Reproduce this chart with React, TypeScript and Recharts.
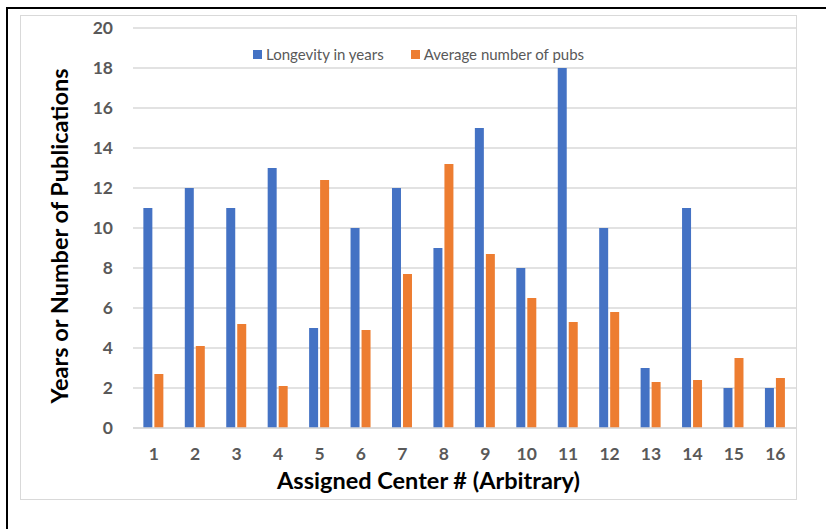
import React from 'react';
import { BarChart, Bar, XAxis, YAxis, CartesianGrid, Label } from 'recharts';

const centers = ['1','2','3','4','5','6','7','8','9','10','11','12','13','14','15','16'];
const longevity = [11, 12, 11, 13, 5, 10, 12, 9, 15, 8, 18, 10, 3, 11, 2, 2];
const avgPubs = [2.7, 4.1, 5.2, 2.1, 12.4, 4.9, 7.7, 13.2, 8.7, 6.5, 5.3, 5.8, 2.3, 2.4, 3.5, 2.5];
const yTicks = [0, 2, 4, 6, 8, 10, 12, 14, 16, 18, 20];
const seriesNames = ['Longevity in years', 'Average number of pubs'];
const xTitle = 'Assigned Center # (Arbitrary)';
const yTitle = 'Years or Number of Publications';

const data = centers.map((c, i) => ({ center: c, longevity: longevity[i], pubs: avgPubs[i] }));

const FONT = 'Lato, "Open Sans", sans-serif';
const BLUE = '#4472C4';
const ORANGE = '#ED7D31';
const seriesColors = [BLUE, ORANGE];
const titleStyle = { fill: '#000', fontSize: 23.5, fontWeight: 'bold' as const, fontFamily: FONT };

const XTitle = (props: any) => {
  const vb = props.viewBox || {};
  const x = vb.x + vb.width / 2 - 36;
  const y = vb.y + vb.height - 11;
  return <text x={x} y={y} textAnchor="middle" style={titleStyle}>{xTitle}</text>;
};

const YTitle = (props: any) => {
  const vb = props.viewBox || {};
  const x = vb.x + 48;
  const y = vb.y + vb.height / 2 + 8;
  return <text x={x} y={y} textAnchor="middle" transform={`rotate(-90 ${x} ${y})`} style={titleStyle}>{yTitle}</text>;
};

export default function App() {
  return (
    <div style={{ position: 'relative', width: 810, height: 513 }}>
      <style>{`html,body{overflow:hidden}`}</style>
      <div style={{ position: 'fixed', left: 6, top: 7, width: 2, height: 530, background: '#000' }} />
      <div style={{ position: 'fixed', left: 6, top: 7, width: 830, height: 2, background: '#000' }} />
      <div style={{ position: 'absolute', left: 12, top: 7, width: 777, height: 485, border: '1.5px solid #d9d9d9', boxSizing: 'border-box', pointerEvents: 'none' }} />
      <div style={{ position: 'absolute', left: 12, top: 7 }}>
        <BarChart width={777} height={485} data={data} margin={{ top: 13, right: 1, left: 0, bottom: 0 }} barCategoryGap="25%" barGap={2}>
          <CartesianGrid vertical={false} stroke="#d9d9d9" strokeWidth={1.3} />
          <XAxis
            dataKey="center"
            height={72}
            axisLine={{ stroke: '#d9d9d9', strokeWidth: 1.3 }}
            tickLine={false}
            tickMargin={14}
            tick={{ fill: '#595959', fontSize: 17.5, fontWeight: 'bold', fontFamily: FONT }}
          >
            <Label content={<XTitle />} />
          </XAxis>
          <YAxis
            width={113}
            domain={[0, 20]}
            ticks={yTicks}
            interval={0}
            axisLine={false}
            tickLine={false}
            tickMargin={14}
            tick={{ fill: '#595959', fontSize: 17.5, fontWeight: 'bold', fontFamily: FONT }}
          >
            <Label content={<YTitle />} />
          </YAxis>
          <Bar dataKey="longevity" name={seriesNames[0]} fill={BLUE} isAnimationActive={false} />
          <Bar dataKey="pubs" name={seriesNames[1]} fill={ORANGE} isAnimationActive={false} />
        </BarChart>
      </div>
      <div style={{ position: 'absolute', left: 245, top: 37, display: 'flex', alignItems: 'center', fontFamily: FONT, fontSize: 15, color: '#595959', whiteSpace: 'nowrap' }}>
        {seriesNames.map((n, i) => (
          <div key={n} style={{ display: 'flex', alignItems: 'center', marginRight: 27 }}>
            <span style={{ display: 'inline-block', width: 9, height: 9, background: seriesColors[i], marginRight: 4 }} />
            <span>{n}</span>
          </div>
        ))}
      </div>
    </div>
  );
}
